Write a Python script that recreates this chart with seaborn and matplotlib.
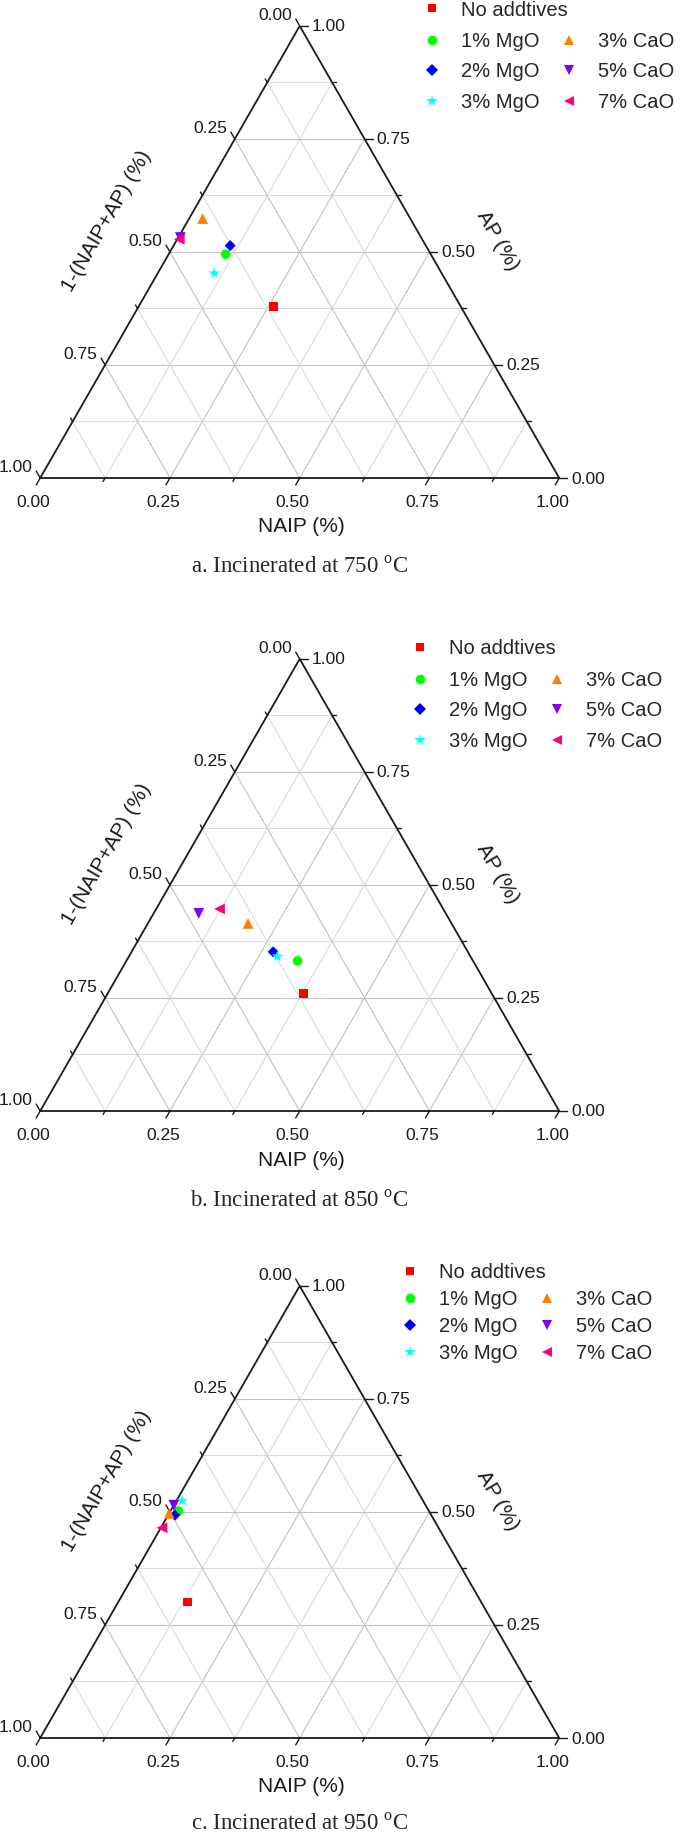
import numpy as np
import pandas as pd
import matplotlib
matplotlib.use('Agg')
import matplotlib.pyplot as plt
import matplotlib.transforms as mtrans
from matplotlib.lines import Line2D
import seaborn as sns

# ---- data (fractions) ----
groups = ['No addtives', '1% MgO', '2% MgO', '3% MgO', '3% CaO', '5% CaO', '7% CaO']
colors = ['#FF0000', '#00FF00', '#0000FF', '#00FFFF', '#FF8000', '#8000FF', '#FF0080']
markers = ['s', 'o', 'D', '*', '^', 'v', '<']
msizes = [40, 48, 32, 75, 60, 60, 60]

naip_750 = [0.260, 0.110, 0.109, 0.109, 0.026, 0.004, 0.004]
ap_750 = [0.379, 0.495, 0.514, 0.453, 0.574, 0.532, 0.528]

naip_850 = [0.377, 0.330, 0.273, 0.286, 0.193, 0.087, 0.122]
ap_850 = [0.260, 0.332, 0.352, 0.342, 0.415, 0.437, 0.447]

naip_950 = [0.134, 0.015, 0.013, 0.011, 0.000, 0.000, 0.002]
ap_950 = [0.301, 0.502, 0.493, 0.525, 0.497, 0.515, 0.465]

captions = ['a. Incinerated at 750 $^\\mathregular{o}$C',
            'b. Incinerated at 850 $^\\mathregular{o}$C',
            'c. Incinerated at 950 $^\\mathregular{o}$C']
tick_vals = np.arange(0, 9) / 8

sns.set_theme(style='white')
plt.rcParams['font.family'] = ['Liberation Sans', 'DejaVu Sans']

W, H = 685, 1834
SX, SY = 519.0, 522.0     # pixels per ternary unit
X0 = 40.2
R3 = np.sqrt(3) / 2
TXT = '#1a1a1a'

# panel layout (pixels): axes top, axes bottom, triangle base, legend marker x,
# legend first row y, legend middle row y, legend row pitch, caption offset
panels = [(0, 600, 478, 432, 10, 72, 30.5, -89),
          (600, 1230, 1111, 420, 649, 711, 30.5, -90),
          (1230, 1834, 1738, 410, 1273, 1326.5, 26.5, -86)]


def cart(naip, ap):
    naip = np.asarray(naip, dtype=float)
    ap = np.asarray(ap, dtype=float)
    return naip + ap / 2, ap * R3


def off(ax, dx, dy):
    return mtrans.offset_copy(ax.transData, fig=ax.figure, x=dx, y=dy, units='dots')


def draw_frame(ax):
    for t in tick_vals[1:-1]:
        col = '#c2c2c2' if t in (0.25, 0.5, 0.75) else '#dcdcdc'
        for xs, ys in [cart([0, 1 - t], [t, t]),
                       cart([t, t], [0, 1 - t]),
                       cart([1 - t, 0], [0, 1 - t])]:
            ax.plot(xs, ys, color=col, lw=0.8, zorder=1)
    xs, ys = cart([0, 1, 0, 0], [0, 0, 1, 0])
    ax.plot(xs, ys, color='k', lw=1.3, zorder=3, solid_joinstyle='miter', clip_on=False)

    for i, t in enumerate(tick_vals):
        major = i % 2 == 0
        lx = (8 if major else 4) / SX
        ly = (8 if major else 4) / SY
        # bottom axis (NAIP)
        bx, by = cart(t, 0)
        ax.plot([bx, bx - 0.5 * lx], [by, by - R3 * ly], color='k', lw=1.0, clip_on=False)
        # right axis (AP)
        rx, ry = cart(1 - t, t)
        ax.plot([rx, rx + lx], [ry, ry], color='k', lw=1.0, clip_on=False)
        # left axis 1-(NAIP+AP)
        qx, qy = cart(0, 1 - t)
        ax.plot([qx, qx - 0.5 * lx], [qy, qy + R3 * ly], color='k', lw=1.0, clip_on=False)
        if major:
            lab = f'{t:.2f}'
            ax.text(bx, by, lab, transform=off(ax, -7, -29), ha='center', va='baseline',
                    fontsize=12.5, color=TXT)
            ax.text(rx + lx, ry, lab, transform=off(ax, 4, -1), ha='left', va='center',
                    fontsize=12.5, color=TXT)
            ax.text(qx - 0.5 * lx, qy + R3 * ly, lab, transform=off(ax, -4, -1), ha='right',
                    va='baseline', fontsize=12.5, color=TXT)

    ax.text(0.5, 0, 'NAIP (%)', transform=off(ax, 2, -49), ha='center', va='center',
            fontsize=15, color=TXT)
    ax.text(0.882, 237 / SY, 'AP (%)', rotation=-60, ha='center', va='center',
            fontsize=15, color=TXT, rotation_mode='anchor')
    ax.text(0.128, 257 / SY, '1-(NAIP+AP) (%)', rotation=60, ha='center', va='center',
            fontsize=15, color=TXT, rotation_mode='anchor')


fig = plt.figure(figsize=(W / 100, H / 100), dpi=100)
datasets = [(naip_750, ap_750), (naip_850, ap_850), (naip_950, ap_950)]

for (top, bot, base, mx, row1, rowmid, pitch, capdy), (naip, ap), cap in zip(panels, datasets, captions):
    ax = fig.add_axes([0, 1 - bot / H, 1, (bot - top) / H])
    ax.set_xlim(-X0 / SX, (W - X0) / SX)
    ax.set_ylim((base - bot) / SY, (base - top) / SY)
    ax.axis('off')

    draw_frame(ax)

    df = pd.DataFrame({'sample': groups, 'NAIP': naip, 'AP': ap})
    df['x'], df['y'] = cart(df['NAIP'], df['AP'])
    sns.scatterplot(data=df, x='x', y='y', hue='sample', style='sample', size='sample',
                    palette=dict(zip(groups, colors)), markers=dict(zip(groups, markers)),
                    sizes=dict(zip(groups, msizes)), linewidth=0, legend=False,
                    ax=ax, zorder=5, clip_on=False)

    ax.text(0.5, 0, cap, transform=off(ax, 0, capdy), ha='center', va='center',
            fontsize=16.5, family=['Liberation Serif', 'DejaVu Serif'])

    # legend: first entry alone, then two columns (MgO / CaO)
    handles = [Line2D([], [], marker=m, color=c, linestyle='none', markersize=np.sqrt(s),
                      markeredgewidth=0) for m, c, s in zip(markers, colors, msizes)]
    fs = 14.5
    fpx = fs * 100 / 72
    hl = 1.0
    common = dict(frameon=False, fontsize=fs, handlelength=hl, handletextpad=0.95,
                  borderpad=0, borderaxespad=0, loc='center left',
                  bbox_transform=fig.transFigure)
    anchor_x = (mx - hl * fpx / 2) / W
    leg1 = ax.legend([handles[0]], [groups[0]],
                     bbox_to_anchor=(anchor_x, 1 - row1 / H), **common)
    ax.add_artist(leg1)
    ax.legend(handles[1:], groups[1:], ncol=2, labelspacing=pitch / fpx - 0.93,
              columnspacing=0.95, bbox_to_anchor=(anchor_x, 1 - rowmid / H), **common)

fig.savefig('out.png', dpi=100)
